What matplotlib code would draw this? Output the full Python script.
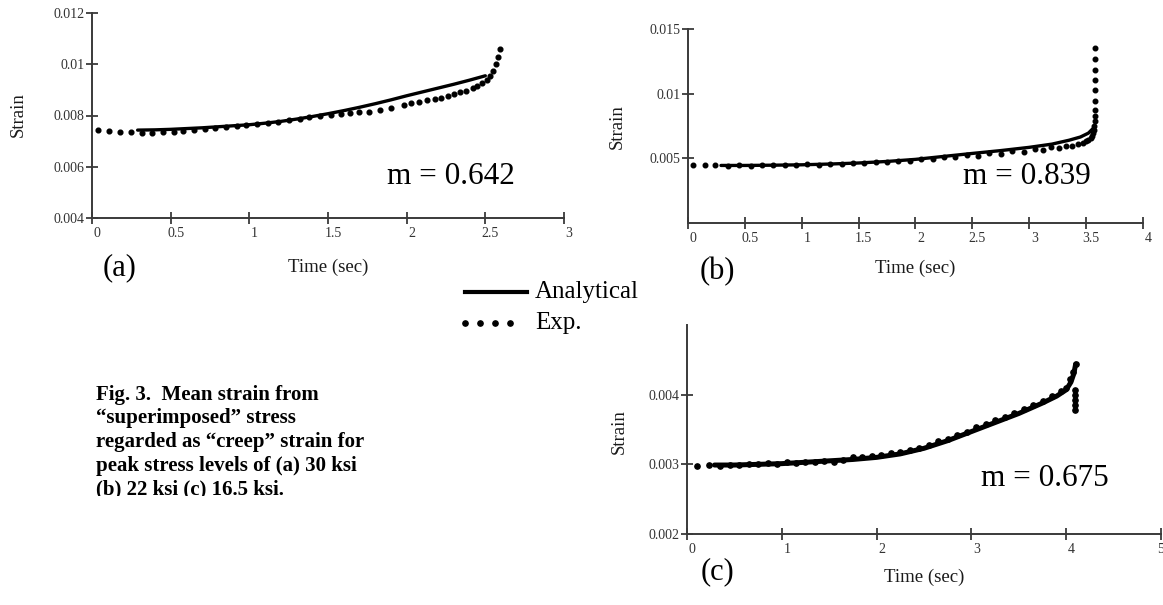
import matplotlib
matplotlib.use("Agg")
import matplotlib.pyplot as plt
from matplotlib.patches import Rectangle
from matplotlib.lines import Line2D
from matplotlib.transforms import ScaledTranslation

plt.rcParams['font.family'] = ['Liberation Serif', 'DejaVu Serif']

W, H = 1163, 605

# ---------------- data: panel (a) ----------------
a_ana_t = [0.29, 0.4, 0.5, 0.6, 0.7, 0.8, 0.9, 1.0, 1.1, 1.2, 1.3, 1.4, 1.5, 1.6, 1.7,
           1.8, 1.9, 2.0, 2.1, 2.2, 2.3, 2.4, 2.5]
a_ana_s = [0.00743, 0.00744, 0.00746, 0.00749, 0.00752, 0.00756, 0.0076, 0.00764, 0.0077,
           0.00777, 0.00786, 0.00796, 0.00807, 0.00819, 0.00832, 0.00846, 0.00861, 0.00877,
           0.00892, 0.00907, 0.00922, 0.00938, 0.00955]
a_exp_t = [0.04, 0.11, 0.18, 0.25, 0.32, 0.38, 0.45, 0.52, 0.58, 0.65, 0.72, 0.78, 0.85, 0.92,
           0.98, 1.05, 1.12, 1.18, 1.25, 1.32, 1.38, 1.45, 1.52, 1.58, 1.64, 1.70, 1.76, 1.83,
           1.90, 1.98, 2.03, 2.08, 2.13, 2.18, 2.22, 2.26, 2.30, 2.34, 2.38, 2.42, 2.45, 2.48,
           2.51, 2.53, 2.55, 2.565, 2.58, 2.595]
a_exp_s = [0.00742, 0.00741, 0.00734, 0.00734, 0.00733, 0.00732, 0.00734, 0.00736, 0.00739,
           0.00742, 0.00746, 0.0075, 0.00754, 0.00758, 0.00762, 0.00766, 0.00771, 0.00776,
           0.00781, 0.00787, 0.00793, 0.00798, 0.00802, 0.00806, 0.00809, 0.00812, 0.00815,
           0.00821, 0.0083, 0.0084, 0.00847, 0.00853, 0.00859, 0.00865, 0.0087, 0.00876,
           0.00883, 0.0089, 0.00897, 0.00906, 0.00914, 0.00925, 0.0094, 0.00955, 0.00975,
           0.0100, 0.0103, 0.0106]
a_xticks = [0, 0.5, 1, 1.5, 2, 2.5, 3]
a_xticklabels = ["0", "0.5", "1", "1.5", "2", "2.5", "3"]
a_yticks = [0.004, 0.006, 0.008, 0.010, 0.012]
a_yticklabels = ["0.004", "0.006", "0.008", "0.01", "0.012"]

# ---------------- data: panel (b) ----------------
b_ana_t = [0.29, 0.5, 0.75, 1.0, 1.25, 1.5, 1.75, 2.0, 2.25, 2.5, 2.75, 3.0, 3.2, 3.35,
           3.45, 3.52, 3.56]
b_ana_s = [0.00445, 0.00445, 0.00447, 0.0045, 0.00456, 0.00464, 0.00476, 0.00492, 0.00515,
           0.00538, 0.0056, 0.00585, 0.0061, 0.0064, 0.00665, 0.00695, 0.0073]
b_exp_t = [0.04, 0.15, 0.24, 0.35, 0.45, 0.55, 0.65, 0.75, 0.85, 0.95, 1.05, 1.15, 1.25,
           1.35, 1.45, 1.55, 1.65, 1.75, 1.85, 1.95, 2.05, 2.15, 2.25, 2.35, 2.45, 2.55,
           2.65, 2.75, 2.85, 2.95, 3.05, 3.12, 3.19, 3.26, 3.32, 3.38, 3.43, 3.47, 3.50,
           3.52, 3.54, 3.55, 3.56, 3.565, 3.57, 3.575, 3.58, 3.58, 3.58, 3.58, 3.58, 3.58,
           3.58, 3.58]
b_exp_s = [0.00448, 0.00448, 0.00448, 0.00444, 0.00446, 0.00444, 0.00449, 0.00446, 0.00451,
           0.00448, 0.00455, 0.00452, 0.0046, 0.00456, 0.00466, 0.00462, 0.00474, 0.00469,
           0.00483, 0.00479, 0.00496, 0.00492, 0.0051, 0.00508, 0.00524, 0.0052, 0.0054,
           0.00533, 0.00555, 0.00548, 0.00572, 0.00566, 0.00588, 0.00578, 0.00598, 0.00596,
           0.00612, 0.00622, 0.00632, 0.00642, 0.00655, 0.0067, 0.00695, 0.0072, 0.0075,
           0.0079, 0.00828, 0.00877, 0.00946, 0.01025, 0.01107, 0.01184, 0.01266, 0.01351]
b_xticks = [0, 0.5, 1, 1.5, 2, 2.5, 3, 3.5, 4]
b_xticklabels = ["0", "0.5", "1", "1.5", "2", "2.5", "3", "3.5", "4"]
b_yticks = [0.005, 0.010, 0.015]
b_yticklabels = ["0.005", "0.01", "0.015"]

# ---------------- data: panel (c) ----------------
c_ana_t = [0.29, 0.5, 0.75, 1.0, 1.25, 1.5, 1.75, 2.0, 2.25, 2.5, 2.75, 3.0, 3.25, 3.5,
           3.75, 3.9, 4.0, 4.05, 4.08, 4.1]
c_ana_s = [0.00299, 0.00299, 0.003, 0.00301, 0.00303, 0.00305, 0.00307, 0.0031, 0.00315,
           0.00323, 0.00334, 0.00347, 0.0036, 0.00373, 0.00388, 0.00398, 0.00407, 0.00418,
           0.0043, 0.00444]
c_exp_t = [0.11, 0.23, 0.35, 0.45, 0.55, 0.65, 0.75, 0.85, 0.95, 1.05, 1.15, 1.25, 1.35,
           1.45, 1.55, 1.65, 1.75, 1.85, 1.95, 2.05, 2.15, 2.25, 2.35, 2.45, 2.55, 2.65,
           2.75, 2.85, 2.95, 3.05, 3.15, 3.25, 3.35, 3.45, 3.55, 3.65, 3.75, 3.85, 3.95,
           4.0, 4.04, 4.07, 4.1, 4.09, 4.09, 4.09, 4.09, 4.09]
c_exp_s = [0.00297, 0.00299, 0.00298, 0.00299, 0.00299, 0.003, 0.003, 0.00302, 0.00301,
           0.00303, 0.00302, 0.00304, 0.00303, 0.00305, 0.00304, 0.00306, 0.0031, 0.00311,
           0.00312, 0.00314, 0.00316, 0.00318, 0.00321, 0.00324, 0.00328, 0.00333, 0.00337,
           0.00342, 0.00347, 0.00353, 0.00358, 0.00363, 0.00368, 0.00373, 0.00379, 0.00385,
           0.00391, 0.00398, 0.00405, 0.0041, 0.00422, 0.00432, 0.00444, 0.00406, 0.00399,
           0.00392, 0.00385, 0.00378]
c_xticks = [0, 1, 2, 3, 4, 5]
c_xticklabels = ["0", "1", "2", "3", "4", "5"]
c_yticks = [0.002, 0.003, 0.004]
c_yticklabels = ["0.002", "0.003", "0.004"]

m_labels = ["m = 0.642", "m = 0.839", "m = 0.675"]
panel_labels = ["(a)", "(b)", "(c)"]
legend_labels = ["Analytical", "Exp."]
caption_lines = ["Fig. 3.  Mean strain from",
                 "\u201csuperimposed\u201d stress",
                 "regarded as \u201ccreep\u201d strain for",
                 "peak stress levels of (a) 30 ksi",
                 "(b) 22 ksi (c) 16.5 ksi."]

fig = plt.figure(figsize=(W / 100, H / 100), dpi=100)
fig.patch.set_facecolor("white")

AX_COL = "#3a3a3a"
TXT_COL = "#1a1a1a"


def rect(x0, y_top, x1, y_bot):
    return [x0 / W, 1 - y_bot / H, (x1 - x0) / W, (y_bot - y_top) / H]


def style(ax, xlim, ylim, xticks, xtl, yticks, ytl, shift_last=True):
    ax.set_xlim(*xlim)
    ax.set_ylim(*ylim)
    for s in ("top", "right"):
        ax.spines[s].set_visible(False)
    for s in ("left", "bottom"):
        ax.spines[s].set_linewidth(1.4)
        ax.spines[s].set_color(AX_COL)
    ax.set_xticks(xticks)
    ax.set_xticklabels(xtl)
    ax.set_yticks(yticks)
    ax.set_yticklabels(ytl)
    ax.tick_params(direction="inout", length=9, width=1.3, color=AX_COL,
                   labelsize=10, labelcolor="#333333", pad=2)
    ax.tick_params(axis="y", pad=1)
    shift = ScaledTranslation(5 / 100, 0, fig.dpi_scale_trans)
    labs = ax.get_xticklabels()
    for i, lab in enumerate(labs):
        if i == len(labs) - 1 and not shift_last:
            continue
        lab.set_transform(lab.get_transform() + shift)
    ax.patch.set_alpha(0)


def ftext(x, y, s, **kw):
    fig.text(x / W, 1 - y / H, s, **kw)


# panel (a)
ax_a = fig.add_axes(rect(92, 13, 564, 218))
ax_a.plot(a_ana_t, a_ana_s, color="black", lw=2.4, solid_capstyle="round", zorder=3)
ax_a.plot(a_exp_t, a_exp_s, ls="none", marker="o", ms=3.4, color="black", zorder=4)
style(ax_a, (0, 3), (0.004, 0.012), a_xticks, a_xticklabels, a_yticks, a_yticklabels)

# panel (b)
ax_b = fig.add_axes(rect(688, 29, 1143, 223))
ax_b.plot(b_ana_t, b_ana_s, color="black", lw=2.4, solid_capstyle="round", zorder=3)
ax_b.plot(b_exp_t, b_exp_s, ls="none", marker="o", ms=3.3, color="black", zorder=4)
style(ax_b, (0, 4), (0.0, 0.015), b_xticks, b_xticklabels, b_yticks, b_yticklabels)

# panel (c)
ax_c = fig.add_axes(rect(687, 325, 1161, 534))
ax_c.plot(c_ana_t, c_ana_s, color="black", lw=3.6, solid_capstyle="round", zorder=3)
ax_c.plot(c_exp_t, c_exp_s, ls="none", marker="o", ms=3.8, color="black", zorder=4)
style(ax_c, (0, 5), (0.002, 0.005), c_xticks, c_xticklabels, c_yticks, c_yticklabels,
      shift_last=False)

for ax in (ax_a, ax_b, ax_c):
    for ln in ax.get_lines():
        ln.set_clip_on(False)

# axis titles
ftext(328, 267, "Time (sec)", fontsize=13.5, ha="center", va="center", color=TXT_COL)
ftext(915, 268, "Time (sec)", fontsize=13.5, ha="center", va="center", color=TXT_COL)
ftext(924, 577, "Time (sec)", fontsize=13.5, ha="center", va="center", color=TXT_COL)
ftext(18, 115, "Strain", fontsize=13.5, rotation=90, ha="center", va="center", color=TXT_COL)
ftext(617, 127, "Strain", fontsize=13.5, rotation=90, ha="center", va="center", color=TXT_COL)
ftext(619, 432, "Strain", fontsize=13.5, rotation=90, ha="center", va="center", color=TXT_COL)

# m labels
ftext(387, 177, m_labels[0], fontsize=22.5, ha="left", va="center", color="black")
ftext(963, 177, m_labels[1], fontsize=22.5, ha="left", va="center", color="black")
ftext(981, 478, m_labels[2], fontsize=22.5, ha="left", va="center", color="black")

# panel labels
ftext(120, 268, panel_labels[0], fontsize=22, ha="center", va="center", color="black")
ftext(717, 272, panel_labels[1], fontsize=22, ha="center", va="center", color="black")
ftext(718, 572, panel_labels[2], fontsize=22, ha="center", va="center", color="black")

# legend (drawn manually in figure pixels)
fig.add_artist(Line2D([465 / W, 527 / W], [1 - 292 / H, 1 - 292 / H], color="black",
                      lw=3, transform=fig.transFigure))
fig.add_artist(Line2D([465 / W, 480 / W, 495 / W, 510 / W], [1 - 323 / H] * 4, ls="none",
                      marker="o", ms=3.8, color="black", transform=fig.transFigure))
ftext(535, 292, legend_labels[0], fontsize=18, ha="left", va="center", color="black")
ftext(535, 323, legend_labels[1], fontsize=18, ha="left", va="center", color="black")

# caption
for i, line in enumerate(caption_lines):
    ftext(96, 395 + i * 23.5, line, fontsize=15, fontweight="bold", ha="left",
          va="center", color="black")
# the last caption line is clipped at the bottom in the original
fig.add_artist(Rectangle((90 / W, 1 - 510 / H), 270 / W, 14 / H, facecolor="white",
                         edgecolor="none", transform=fig.transFigure, zorder=10))

fig.savefig("out.png", dpi=100, facecolor="white")
